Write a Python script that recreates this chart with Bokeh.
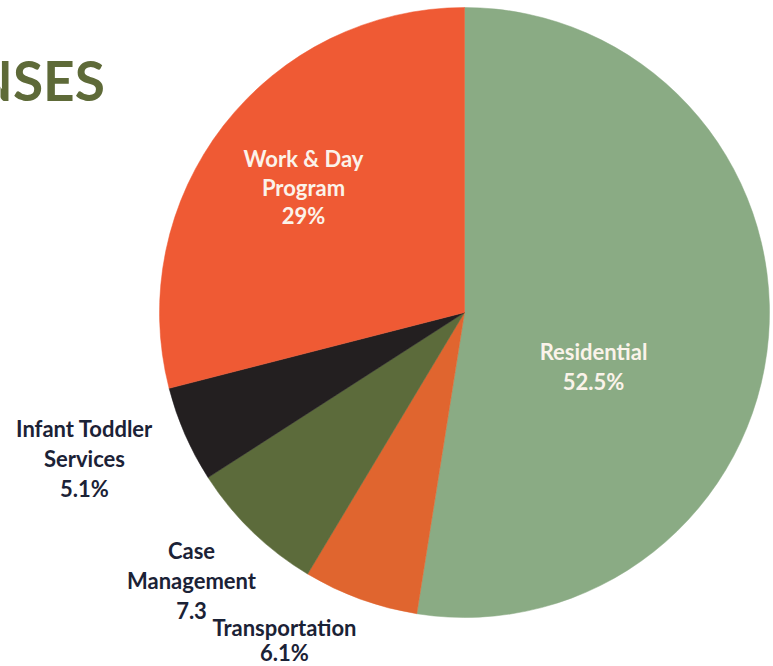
import math
from bokeh.plotting import figure
from bokeh.models import Range1d, ColumnDataSource
from bokeh.core.properties import value
from bokeh.embed import file_html
from bokeh.resources import INLINE

# Data
categories = ["Residential", "Transportation", "Case Management", "Infant Toddler Services", "Work & Day Program"]
shares = [52.5, 6.1, 7.3, 5.1, 29.0]
colors = ["#8aab84", "#e0652f", "#5c6b3b", "#231f20", "#ef5a34"]
label_lines = [
    ["Residential", "52.5%"],
    ["Transportation", "6.1%"],
    ["Case", "Management", "7.3"],
    ["Infant Toddler", "Services", "5.1%"],
    ["Work & Day", "Program", "29%"],
]
title_text = "NSES"

W, H = 773, 666
CX, CY, R = 464, 312, 305

p = figure(width=W, height=H, output_backend="svg", toolbar_location=None,
           x_range=Range1d(0, W), y_range=Range1d(0, H), min_border=0)
p.axis.visible = False
p.grid.visible = False
p.outline_line_color = None
p.background_fill_color = "white"
p.border_fill_color = "white"

total = sum(shares)
starts, ends = [], []
cum = 0.0
for s in shares:
    starts.append(math.pi / 2 - 2 * math.pi * cum / total)
    cum += s
    ends.append(math.pi / 2 - 2 * math.pi * cum / total)

src = ColumnDataSource(dict(x=[CX] * len(shares), y=[H - CY] * len(shares),
                            start=starts, end=ends, color=colors))
p.wedge(x="x", y="y", radius=R, start_angle="start", end_angle="end",
        direction="clock", fill_color="color", line_color="color", line_width=0.5,
        source=src)

# label anchor positions (pixel coords of first line centre) and styles
label_pos = [(593, 351), (284, 627), (191, 550), (84, 428), (303, 158)]
label_step = [30, 25, 30, 30, 28.5]
label_color = ["#fbf3ea", "#1b2236", "#1b2236", "#1b2236", "#fbf3ea"]

xs, ys, ts, cs = [], [], [], []
for lines, (lx, ly), step, col in zip(label_lines, label_pos, label_step, label_color):
    for i, t in enumerate(lines):
        xs.append(lx)
        ys.append(H - (ly + i * step))
        ts.append(t)
        cs.append(col)
ltxt = ColumnDataSource(dict(x=xs, y=ys, text=ts, color=cs))
p.text(x="x", y="y", text="text", source=ltxt, text_color="color",
       text_font=value("Lato"), text_font_style="bold", text_font_size="22px",
       text_align="center", text_baseline="middle")

p.text(x=[-30], y=[H - 79], text=[title_text], text_color="#5e6a38",
       text_font=value("Lato"), text_font_style="bold", text_font_size="55px",
       text_align="left", text_baseline="middle")

open("out.html", "w").write(file_html(p, INLINE))
